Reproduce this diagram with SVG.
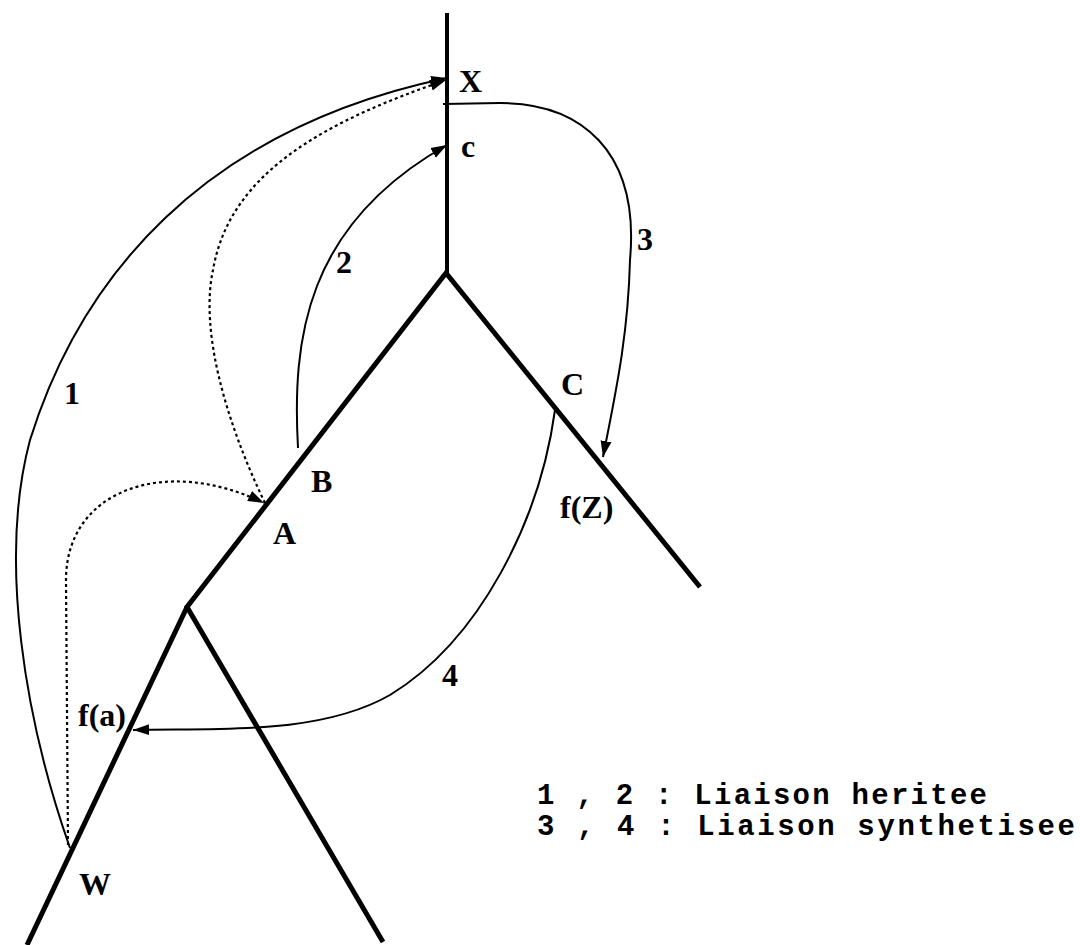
<svg xmlns="http://www.w3.org/2000/svg" width="1080" height="945" viewBox="0 0 1080 945">
<style>
.tree{stroke:#000;stroke-width:5;fill:none;stroke-linecap:butt;stroke-linejoin:miter}
.trunk{stroke:#000;stroke-width:4;fill:none}
.link{stroke:#000;stroke-width:2;fill:none}
.dot{stroke:#000;stroke-width:2.2;fill:none;stroke-dasharray:3 3}
.lbl{font-family:"Liberation Serif","Times New Roman",serif;font-weight:bold;font-size:32px;fill:#000}
.leg{font-family:"Liberation Mono","Courier New",monospace;font-weight:bold;font-size:29px;fill:#000}
</style>
<defs>
<marker id="ah" markerUnits="userSpaceOnUse" markerWidth="18" markerHeight="12" refX="16" refY="6" orient="auto">
<path d="M0,0.5 L16,6 L0,11.5 Z" fill="#000"/>
</marker>
</defs>
<rect width="1080" height="945" fill="#fff"/>
<g id="tree">
<path class="trunk" d="M447,13 L447,273"/>
<path class="tree" d="M700,587 L446,273 L187,607 L383,942"/>
<path class="tree" d="M187,607 L27,945"/>
</g>
<g id="connectors">
<path id="link1" class="link" marker-end="url(#ah)" d="M70,848 C25,720 -2,560 30,440 C80,280 200,130 447,78"/>
<path id="link1dotA" class="dot" marker-end="url(#ah)" d="M68,845 L66,580 C66,490 165,455 264,503"/>
<path id="link1dotX" class="dot" marker-end="url(#ah)" d="M265,503 C225,420 200,330 213,270 C230,170 330,120 446,80"/>
<path id="link2" class="link" marker-end="url(#ah)" d="M298,448 C292,340 305,225 447,145"/>
<path id="link3" class="link" marker-end="url(#ah)" d="M443,104 L500,103 C580,103 640,150 630,260 C628,340 614,400 603,457"/>
<path id="link4" class="link" marker-end="url(#ah)" d="M555,410 C540,520 480,640 390,695 C320,735 220,728 133,730"/>
</g>
<g id="node-X"><text class="lbl" x="459" y="92">X</text></g>
<g id="node-c"><text class="lbl" x="461" y="157">c</text></g>
<g id="label-3"><text class="lbl" x="637" y="250">3</text></g>
<g id="label-2"><text class="lbl" x="336" y="273">2</text></g>
<g id="label-1"><text class="lbl" x="64" y="404">1</text></g>
<g id="node-C"><text class="lbl" x="561" y="395">C</text></g>
<g id="node-B"><text class="lbl" x="311" y="492">B</text></g>
<g id="node-A"><text class="lbl" x="273" y="544">A</text></g>
<g id="node-fZ"><text class="lbl" x="560" y="518">f(Z)</text></g>
<g id="label-4"><text class="lbl" x="442" y="686">4</text></g>
<g id="node-fa"><text class="lbl" x="78" y="726">f(a)</text></g>
<g id="node-W"><text class="lbl" x="79" y="895">W</text></g>
<g id="legend">
<text class="leg" x="537" y="804" textLength="450" lengthAdjust="spacing" xml:space="preserve">1 , 2 : Liaison heritee</text>
<text class="leg" x="537" y="835" textLength="538" lengthAdjust="spacing" xml:space="preserve">3 , 4 : Liaison synthetisee</text>
</g>
</svg>
